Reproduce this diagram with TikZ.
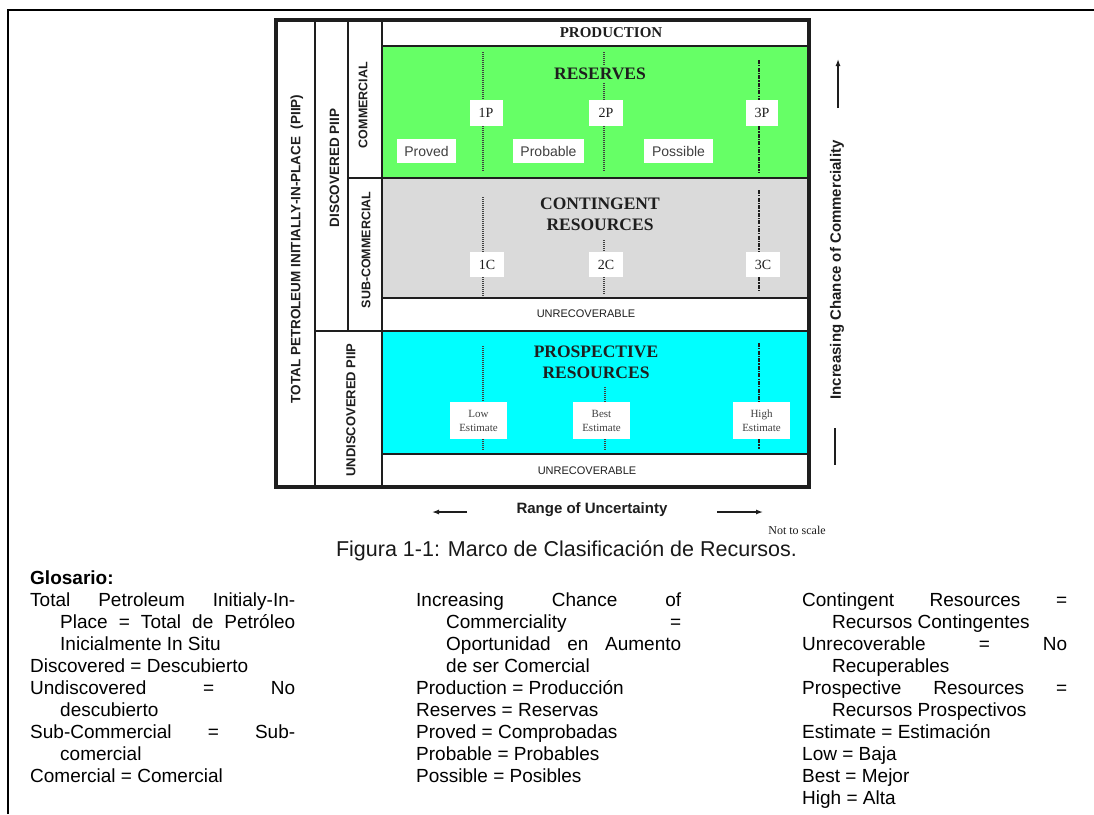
\documentclass[tikz,border=0pt]{standalone}
\usepackage{fontspec}
\setmainfont{Liberation Serif}
\setsansfont{Liberation Sans}
\usetikzlibrary{arrows.meta}

\definecolor{resgreen}{RGB}{102,255,102}
\definecolor{contgray}{RGB}{218,218,218}
\definecolor{prospcyan}{RGB}{0,255,255}
\definecolor{inkgray}{RGB}{30,30,30}

% paragraph settings for the glossary columns
\newcommand\glsetup{\parindent=0pt\tolerance=10000\hyphenpenalty=10000\relax}
% one glossary entry: first line flush left, the rest indented
\newcommand\glentry[1]{\hangindent=30pt\hangafter=1 #1\par}

\begin{document}
\begin{tikzpicture}[x=1pt,y=-1pt,
  rule/.style={line width=1.8pt, draw=inkgray},
  pbox/.style={fill=white, inner sep=0pt, minimum height=26pt, font=\fontsize{14}{16}\selectfont, text=inkgray},
  catbox/.style={fill=white, inner sep=0pt, minimum height=24pt, font=\sffamily\fontsize{14}{16}\selectfont, text=black!75},
  estbox/.style={fill=white, inner sep=0pt, minimum width=57pt, minimum height=37pt, align=center, font=\fontsize{11}{14}\selectfont, text=black!75},
  vlabel/.style={rotate=90, inner sep=0pt, text=inkgray, font=\sffamily\bfseries\fontsize{13.5}{15}\selectfont},
  bandtitle/.style={align=center, text=inkgray, font=\bfseries\fontsize{17.5}{21}\selectfont},
  smallcaps/.style={text=inkgray, font=\sffamily\fontsize{11}{13}\selectfont},
  dotline/.style={line width=1.1pt, draw=black!75, dash pattern=on 1pt off 1pt},
  dashdotline/.style={line width=1.8pt, draw=inkgray, dash pattern=on 4pt off 1.2pt on 1.2pt off 1.2pt},
  axis label/.style={text=inkgray, font=\sffamily\bfseries\fontsize{15}{18}\selectfont},
  gloss/.style={anchor=base west, inner sep=0pt, text width=265pt, align=justify,
    font=\sffamily\fontsize{19}{22}\selectfont},
  arrowline/.style={line width=1.3pt, draw=inkgray}
]
\useasboundingbox (0,0) rectangle (1094,814);
\fill[white] (0,0) rectangle (1094,814);

% page frame
\draw[line width=2pt] (8,814) -- (8,10) -- (1094,10);

% ---- classification chart ----
\fill[white] (276,20) rectangle (809,487);
\fill[resgreen] (382,46) rectangle (809,178);
\fill[contgray] (382,178) rectangle (809,298);
\fill[prospcyan] (382,331) rectangle (809,454);

\draw[rule] (382,46) -- (809,46);
\draw[rule] (348,178) -- (809,178);
\draw[rule] (382,298) -- (809,298);
\draw[rule] (315,331) -- (809,331);
\draw[rule] (382,454) -- (809,454);
\draw[rule] (315,20) -- (315,487);
\draw[rule] (348,20) -- (348,331);
\draw[rule] (382,20) -- (382,487);
\draw[line width=3.2pt, draw=inkgray] (276,20) rectangle (809,487);

% side labels
\node[vlabel] (piip) at (297,249) {TOTAL PETROLEUM INITIALLY-IN-PLACE~~(PIIP)};
\node[vlabel] (disc) at (334.5,168) {DISCOVERED PIIP};
\node[vlabel, font=\sffamily\bfseries\fontsize{12.5}{14}\selectfont] (comm) at (363,105) {COMMERCIAL};
\node[vlabel, font=\sffamily\bfseries\fontsize{12.5}{14}\selectfont] (subc) at (366,250) {SUB-COMMERCIAL};
\node[vlabel, font=\sffamily\bfseries\fontsize{13}{15}\selectfont] (undisc) at (351,410) {UNDISCOVERED PIIP};

% band titles
\node[bandtitle, font=\bfseries\fontsize{15}{18}\selectfont] (prod) at (611,33) {PRODUCTION};
\node[bandtitle] (res) at (600,74) {RESERVES};
\node[bandtitle] (cont) at (600,214) {CONTINGENT\\RESOURCES};
\node[bandtitle] (prosp) at (596,362) {PROSPECTIVE\\RESOURCES};
\node[smallcaps] (unrec1) at (586,314) {UNRECOVERABLE};
\node[smallcaps] (unrec2) at (587,471) {UNRECOVERABLE};

% reserves
\node[pbox, minimum width=33pt] (p1) at (486,113) {1P};
\node[pbox, minimum width=34pt] (p2) at (606,113) {2P};
\node[pbox, minimum width=32pt] (p3) at (762,113) {3P};
\node[catbox, minimum width=59pt] (proved) at (426.5,151) {Proved};
\node[catbox, minimum width=71pt] (probable) at (548.5,151) {Probable};
\node[catbox, minimum width=69pt] (possible) at (678.5,151) {Possible};

\coordinate (t1) at (483,52);  \coordinate (b1) at (483,172);
\coordinate (t2) at (604,52);  \coordinate (b2) at (604,172);
\coordinate (t3) at (759,60);  \coordinate (b3) at (759,172);
\draw[dotline] (t1) -- (p1.north -| t1);
\draw[dotline] (p1.south -| t1) -- (b1);
\draw[dotline] (t2) -- (res.north -| t2);
\draw[dotline] (res.south -| t2) -- (p2.north -| t2);
\draw[dotline] (p2.south -| t2) -- (b2);
\draw[dashdotline] (t3) -- (p3.north -| t3);
\draw[dashdotline] (p3.south -| t3) -- (b3);

% contingent resources
\node[pbox, minimum width=34pt, minimum height=25pt] (c1) at (487,264.5) {1C};
\node[pbox, minimum width=34pt, minimum height=25pt] (c2) at (606,264.5) {2C};
\node[pbox, minimum width=34pt, minimum height=25pt] (c3) at (763,264.5) {3C};

\coordinate (t4) at (483,197);  \coordinate (b4) at (483,297);
\coordinate (t5) at (604,240);  \coordinate (b5) at (604,294);
\coordinate (t6) at (759,190);  \coordinate (b6) at (759,291);
\draw[dotline] (t4) -- (c1.north -| t4);
\draw[dotline] (c1.south -| t4) -- (b4);
\draw[dotline] (t5) -- (c2.north -| t5);
\draw[dotline] (c2.south -| t5) -- (b5);
\draw[dashdotline] (t6) -- (c3.north -| t6);
\draw[dashdotline] (c3.south -| t6) -- (b6);

% prospective resources
\node[estbox] (e1) at (478.5,420.5) {Low\\Estimate};
\node[estbox] (e2) at (601.5,420.5) {Best\\Estimate};
\node[estbox] (e3) at (761.5,420.5) {High\\Estimate};

\coordinate (t7) at (483,346);  \coordinate (b7) at (483,450);
\coordinate (t8) at (605,387);  \coordinate (b8) at (605,450);
\coordinate (t9) at (759,343);  \coordinate (b9) at (759,449);
\draw[dotline] (t7) -- (e1.north -| t7);
\draw[dotline] (e1.south -| t7) -- (b7);
\draw[dotline] (t8) -- (e2.north -| t8);
\draw[dotline] (e2.south -| t8) -- (b8);
\draw[dashdotline] (t9) -- (e3.north -| t9);
\draw[dashdotline] (e3.south -| t9) -- (b9);

% commerciality axis
\node[axis label, rotate=90] (chance) at (837,270) {Increasing Chance of Commerciality};
\coordinate (ua) at (838,108); \coordinate (ub) at (838,59);
\coordinate (la) at (835,428); \coordinate (lb) at (835,465);
\draw[arrowline, -{Latex[length=7pt,width=5pt]}] (ua) -- (ub);
\draw[arrowline] (la) -- (lb);

% uncertainty axis
\node[axis label] (range) at (592,510) {Range of Uncertainty};
\coordinate (ra1) at (467,512); \coordinate (ra2) at (432,512);
\coordinate (rb1) at (717,512); \coordinate (rb2) at (763,512);
\draw[arrowline, -{Latex[length=7pt,width=5pt]}] (ra1) -- (ra2);
\draw[arrowline, -{Latex[length=7pt,width=5pt]}] (rb1) -- (rb2);
\node[text=inkgray, font=\fontsize{12}{14}\selectfont] (nts) at (797,530) {Not to scale};

% caption
\node[text=black!90, font=\sffamily\fontsize{21.5}{25}\selectfont] (cap) at (566.5,551) {Figura 1-1: Marco de Clasificación de Recursos.};

% glossary
\node[anchor=base west, inner sep=0pt, font=\sffamily\bfseries\fontsize{19}{22}\selectfont] (glos) at (30,584) {Glosario:};

\node[gloss] (gcol1) at (30,606) {\glsetup
\glentry{Total Petroleum Initialy-In-\linebreak Place = Total de Petróleo\linebreak Inicialmente In Situ}%
\glentry{Discovered = Descubierto}%
\glentry{Undiscovered = No\linebreak descubierto}%
\glentry{Sub-Commercial = Sub-\linebreak comercial}%
\glentry{Comercial = Comercial}};

\node[gloss] (gcol2) at (416,606) {\glsetup
\glentry{Increasing Chance of\linebreak Commerciality =\linebreak Oportunidad en Aumento\linebreak de ser Comercial}%
\glentry{Production = Producción}%
\glentry{Reserves = Reservas}%
\glentry{Proved = Comprobadas}%
\glentry{Probable = Probables}%
\glentry{Possible = Posibles}};

\node[gloss] (gcol3) at (802,606) {\glsetup
\glentry{Contingent Resources =\linebreak Recursos Contingentes}%
\glentry{Unrecoverable = No\linebreak Recuperables}%
\glentry{Prospective Resources =\linebreak Recursos Prospectivos}%
\glentry{Estimate = Estimación}%
\glentry{Low = Baja}%
\glentry{Best = Mejor}%
\glentry{High = Alta}};
\end{tikzpicture}
\end{document}
